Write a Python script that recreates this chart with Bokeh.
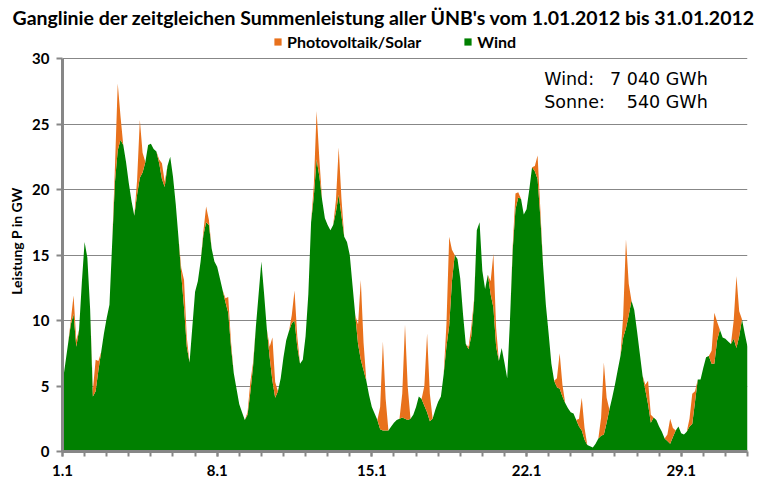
from bokeh.plotting import figure
from bokeh.models import FixedTicker, Legend, LegendItem, Label, Range1d, ColumnDataSource
from bokeh.embed import file_html
from bokeh.resources import INLINE

# ---- data (GW), 3-hourly values starting 1.1.2012 00:00 ----
wind = [
    5.2, 6.7, 8.2, 9.7, 10.5, 8.0, 9.3, 12.9,      # 1.1
    16.0, 14.8, 10.9, 4.2, 4.6, 6.2, 7.6, 9.0,     # 2.1
    10.2, 11.2, 16.0, 20.6, 23.0, 23.8, 23.4, 22.1,  # 3.1
    20.5, 19.1, 18.0, 19.6, 20.9, 21.3, 22.1, 23.4,  # 4.1
    23.5, 23.1, 22.9, 22.0, 20.8, 20.2, 21.8, 22.5,  # 5.1
    21.0, 18.9, 16.3, 13.5, 11.0, 8.0, 6.8, 9.5,     # 6.1
    12.2, 13.0, 14.5, 16.5, 17.5, 17.3, 15.5, 14.5,  # 7.1
    14.1, 13.2, 12.3, 11.4, 10.6, 8.0, 6.0, 4.8,     # 8.1
    3.6, 3.0, 2.4, 2.8, 4.5, 6.5, 9.5, 12.0,         # 9.1
    14.5, 12.0, 9.3, 7.2, 5.4, 4.1, 4.6, 5.6,        # 10.1
    7.2, 8.5, 9.2, 9.8, 10.0, 8.0, 6.7, 7.0,         # 11.1
    8.8, 12.0, 17.5, 19.5, 22.3, 21.0, 19.2, 17.8,   # 12.1
    17.3, 16.9, 17.3, 18.3, 19.6, 18.0, 16.4, 16.0,  # 13.1
    15.0, 12.7, 10.4, 8.2, 7.0, 6.2, 5.4, 4.3,       # 14.1
    3.4, 2.9, 2.4, 1.7, 1.6, 1.6, 1.6, 1.9,          # 15.1
    2.2, 2.4, 2.5, 2.6, 2.5, 2.4, 2.5, 2.8,          # 16.1
    3.4, 4.2, 4.0, 3.5, 3.0, 2.3, 2.5, 3.2,          # 17.1
    3.8, 4.2, 5.9, 8.0, 9.6, 13.0, 15.0, 14.7,       # 18.1
    13.2, 10.5, 8.2, 7.8, 8.8, 11.4, 16.9, 17.5,     # 19.1
    13.8, 12.4, 13.5, 12.0, 11.0, 8.0, 6.9, 7.9,     # 20.1
    6.8, 5.6, 10.0, 15.4, 18.5, 19.4, 19.3, 18.1,    # 21.1
    18.5, 20.0, 21.7, 21.4, 20.8, 17.9, 14.2, 11.2,  # 22.1
    9.0, 6.7, 5.4, 4.9, 4.8, 4.2, 3.7, 3.3,          # 23.1
    3.0, 2.9, 2.4, 1.9, 1.6, 0.9, 0.5, 0.4,          # 24.1
    0.3, 0.6, 1.0, 1.2, 1.3, 2.2, 3.2, 4.1,          # 25.1
    5.1, 6.2, 7.3, 8.7, 9.4, 10.4, 11.5, 10.8,       # 26.1
    9.2, 7.5, 5.8, 4.7, 3.6, 2.2, 2.6, 2.4,          # 27.1
    1.9, 1.5, 1.0, 0.8, 0.6, 1.1, 1.6, 1.9,          # 28.1
    1.4, 1.3, 1.5, 1.9, 2.1, 3.8, 5.5, 5.5,          # 29.1
    6.4, 7.2, 7.3, 6.7, 6.7, 8.5, 9.3, 8.7,          # 30.1
    8.6, 8.4, 8.2, 8.6, 7.9, 8.8, 10.1, 9.0,         # 31.1
    8.0,                                             # 1.2 00:00
]

# solar per day at 09:00, 12:00 and 15:00 (GW)
solar_09 = [0.3, 0.5, 1.2, 1.1, 0.3, 0.5, 0.3, 0.3, 0.2, 0.8, 0.6, 0.9, 0.9, 1.5, 1.7, 1.8,
            1.5, 1.7, 0.2, 1.0, 0.3, 0.4, 0.7, 0.6, 1.4, 1.7, 0.4, 0.5, 0.6, 1.0, 1.4]
solar_12 = [1.4, 2.4, 5.1, 4.4, 1.2, 2.1, 1.2, 1.2, 0.8, 3.3, 2.3, 3.7, 3.6, 6.1, 6.8, 7.2,
            6.0, 6.8, 0.7, 4.1, 1.2, 1.8, 2.7, 2.5, 5.5, 6.8, 1.8, 1.9, 2.3, 3.9, 5.5]
solar_15 = [0.5, 0.7, 1.8, 1.5, 0.4, 0.7, 0.4, 0.4, 0.3, 1.2, 0.8, 1.3, 1.3, 2.1, 2.4, 2.5,
            2.1, 2.4, 0.2, 1.4, 0.4, 0.6, 0.9, 0.9, 1.9, 2.4, 0.6, 0.7, 0.8, 1.4, 1.9]

tick_days = [0, 7, 14, 21, 28]
tick_labels = ["1.1", "8.1", "15.1", "22.1", "29.1"]
y_ticks = [0, 5, 10, 15, 20, 25, 30]

title_text = "Ganglinie der zeitgleichen Summenleistung aller ÜNB's vom 1.01.2012 bis 31.01.2012"
wind_sum = "7 040 GWh"
sun_sum = "540 GWh"

# ---- build series ----
n = len(wind)
t = [i * 3 / 24 for i in range(n)]
solar = [0.0] * n
for d in range(31):
    solar[d * 8 + 3] = solar_09[d]
    solar[d * 8 + 4] = solar_12[d]
    solar[d * 8 + 5] = solar_15[d]
total = [w + s for w, s in zip(wind, solar)]
src = ColumnDataSource(dict(t=t, wind=wind, total=total, zero=[0.0] * n))

GREEN = "#008000"
ORANGE = "#E8711C"
GRAY = "#878787"
FONT = "Lato"

p = figure(width=760, height=485, output_backend="svg", toolbar_location=None,
           x_range=Range1d(0, 31), y_range=Range1d(0, 32.14),
           title=title_text,
           min_border_left=62, min_border_right=13, min_border_top=30, min_border_bottom=34)
p.outline_line_color = None
p.background_fill_color = "white"
p.border_fill_color = "white"

p.title.align = "left"
p.title.offset = -50
p.title.text_font = FONT
p.title.text_font_style = "bold"
p.title.text_font_size = "19.5px"
p.title.text_color = "black"
p.title.standoff = 3

r_wind = p.varea(x="t", y1="zero", y2="wind", source=src, fill_color=GREEN)
r_sun = p.varea(x="t", y1="wind", y2="total", source=src, fill_color=ORANGE)

# axes
p.xaxis.ticker = FixedTicker(ticks=tick_days, minor_ticks=list(range(32)))
p.xaxis.major_label_overrides = {d: l for d, l in zip(tick_days, tick_labels)}
p.yaxis.ticker = FixedTicker(ticks=y_ticks)
p.yaxis.bounds = (0, 30)
for ax in (p.xaxis[0], p.yaxis[0]):
    ax.axis_line_color = GRAY
    ax.axis_line_width = 3
    ax.major_tick_line_color = GRAY
    ax.major_tick_line_width = 2
    ax.minor_tick_line_color = GRAY
    ax.minor_tick_line_width = 2
    ax.major_tick_in = 0
    ax.minor_tick_in = 0
    ax.major_label_text_font = FONT
    ax.major_label_text_font_style = "bold"
    ax.major_label_text_font_size = "15px"
    ax.major_label_text_color = "black"
p.xaxis.major_tick_out = 5
p.xaxis.minor_tick_out = 5
p.xaxis.major_label_standoff = 8
p.yaxis.major_tick_out = 6
p.yaxis.minor_tick_out = 0
p.yaxis.major_label_standoff = 7
p.yaxis.axis_label = "Leistung P in GW"
p.yaxis.axis_label_text_font = FONT
p.yaxis.axis_label_text_font_style = "bold"
p.yaxis.axis_label_text_font_size = "14px"
p.yaxis.axis_label_text_color = "black"
p.yaxis.axis_label_standoff = 4

p.xgrid.grid_line_color = None
p.ygrid.grid_line_color = GRAY
p.ygrid.grid_line_width = 1
p.ygrid.ticker = FixedTicker(ticks=y_ticks)

# legend (inside the extended frame, above the 30 GW line)
legend = Legend(items=[LegendItem(label="Photovoltaik/Solar", renderers=[r_sun]),
                       LegendItem(label="Wind", renderers=[r_wind])],
                location=(211, 400), orientation="horizontal",
                glyph_width=9, glyph_height=9, label_standoff=5, spacing=42,
                padding=0, margin=0, border_line_color=None, background_fill_alpha=0,
                label_text_font=FONT, label_text_font_style="bold", label_text_font_size="16px",
                label_text_color="black")
p.add_layout(legend)

# totals
for txt, xx, yy, al in [("Wind:", 21.8, 28.47, "left"), (wind_sum, 29.2, 28.47, "right"),
                        ("Sonne:", 21.8, 26.7, "left"), (sun_sum, 29.2, 26.7, "right")]:
    p.add_layout(Label(x=xx, y=yy, text=txt, text_align=al, text_baseline="alphabetic",
                       text_font="DejaVu Sans", text_font_size="17.5px", text_color="black"))

open("out.html", "w").write(file_html(p, INLINE))
